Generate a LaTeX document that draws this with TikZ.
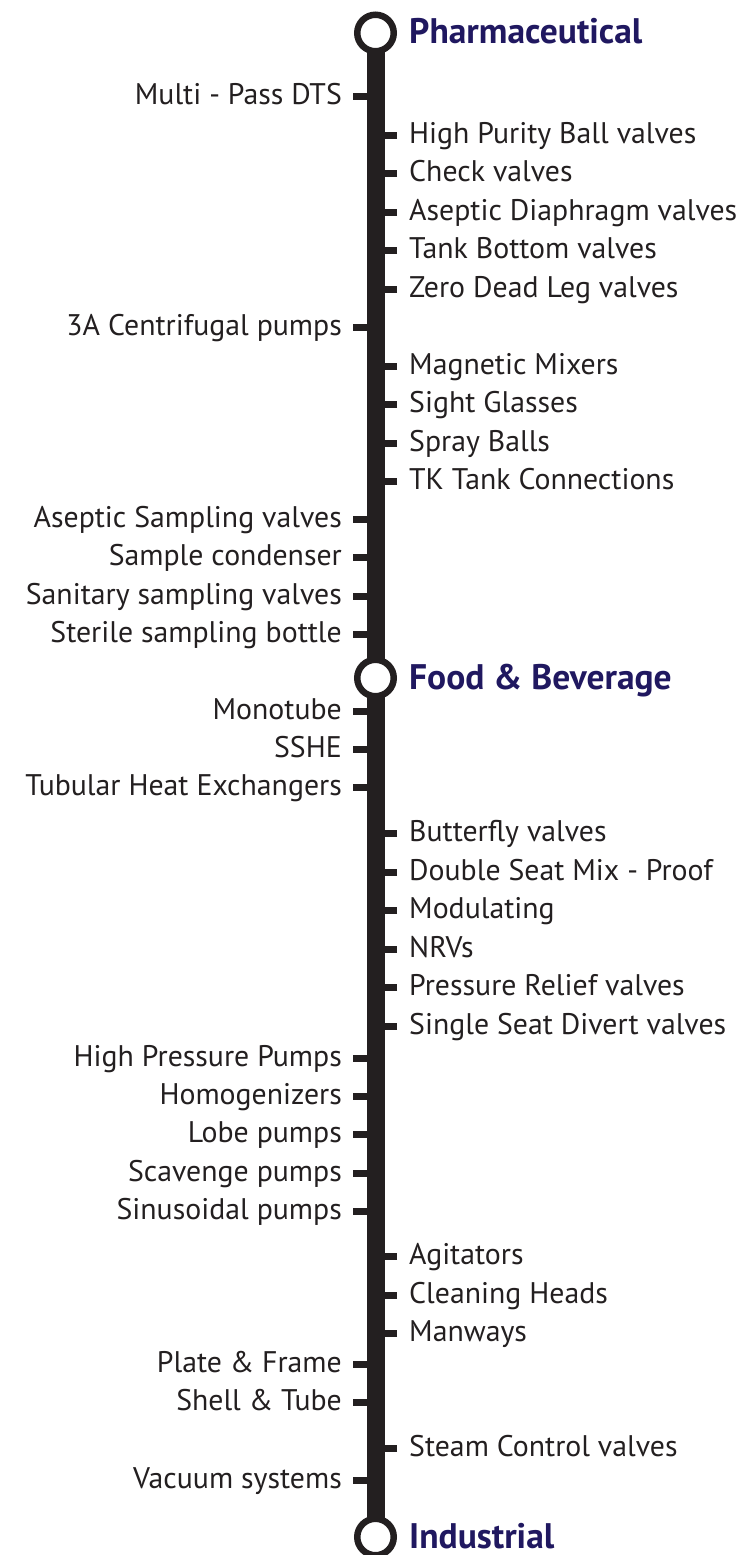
\documentclass[tikz,border=0pt]{standalone}
\usepackage{fontspec}
\setmainfont{PT Sans}
\usetikzlibrary{positioning}
\definecolor{rail-dark}{RGB}{35,31,32}
\definecolor{title-blue}{RGB}{32,24,96}
\tikzset{
    rail-line/.style = {draw=rail-dark, line width=18pt},
    stub-line/.style = {draw=rail-dark, line width=7pt},
    stop-circle/.style = {circle, draw=rail-dark, fill=white, line width=6.5pt, minimum size=36.5pt, inner sep=0pt},
    stop-title/.style = {text=title-blue, font=\fontsize{35.5}{42}\selectfont\bfseries, inner sep=0pt, text height=23pt, text depth=1pt},
    item-left/.style = {text=rail-dark, font=\fontsize{29.8}{36}\selectfont, inner sep=0pt, text height=21pt, text depth=4.5pt, anchor=east},
    item-right/.style = {item-left, anchor=west},
}

\begin{document}
\begin{tikzpicture}[x=1pt, y=-1pt]
\useasboundingbox (0,0) rectangle (743,1555);

% the line first, stations on top
\coordinate (pharm-c) at (375.5,33);
\coordinate (food-c) at (375.5,678);
\coordinate (ind-c) at (375.5,1537);
\draw[rail-line] (pharm-c) -- (food-c) -- (ind-c);

\node[stop-circle] (pharm) at (pharm-c) {};
\node[stop-circle] (food) at (food-c) {};
\node[stop-circle] (ind) at (ind-c) {};

\node[stop-title, right=12pt of pharm] (pharm-title) {Pharmaceutical};
\node[stop-title, right=12pt of food] (food-title) {Food \& Beverage};
\node[stop-title, right=12pt of ind] (ind-title) {Industrial};

% items left of the line
\foreach \y/\txt/\nm in {
    96.5/Multi - Pass DTS/l1, 327/3A Centrifugal pumps/l2,
    519/Aseptic Sampling valves/l3, 557/Sample condenser/l4,
    596/Sanitary sampling valves/l5, 634/Sterile sampling bottle/l6,
    711/Monotube/l7, 749/SSHE/l8, 787/Tubular Heat Exchangers/l9,
    1058/High Pressure Pumps/l10, 1096/Homogenizers/l11,
    1134/Lobe pumps/l12, 1173/Scavenge pumps/l13,
    1211/Sinusoidal pumps/l14, 1364/Plate \& Frame/l15,
    1402/Shell \& Tube/l16, 1480/Vacuum systems/l17}{
    \node[item-left] (\nm) at (342,\y) {\txt};
    \draw[stub-line] (\nm.east) ++(11,0) -- ++(15,0);
}

% items right of the line
\foreach \y/\txt/\nm in {
    135/High Purity Ball valves/r1, 173.5/Check valves/r2,
    212/Aseptic Diaphragm valves/r3, 250.5/Tank Bottom valves/r4,
    289/Zero Dead Leg valves/r5, 366/Magnetic Mixers/r6,
    404/Sight Glasses/r7, 443/Spray Balls/r8,
    481/TK Tank Connections/r9, 833/Butterfly valves/r10,
    872/Double Seat Mix - Proof/r11, 910/Modulating/r12,
    949/NRVs/r13, 987/Pressure Relief valves/r14,
    1026/Single Seat Divert valves/r15, 1256/Agitators/r16,
    1295/Cleaning Heads/r17, 1333/Manways/r18,
    1448/Steam Control valves/r19}{
    \node[item-right] (\nm) at (409,\y) {\txt};
    \draw[stub-line] (\nm.west) ++(-12,0) -- ++(-15,0);
}
\end{tikzpicture}
\end{document}
